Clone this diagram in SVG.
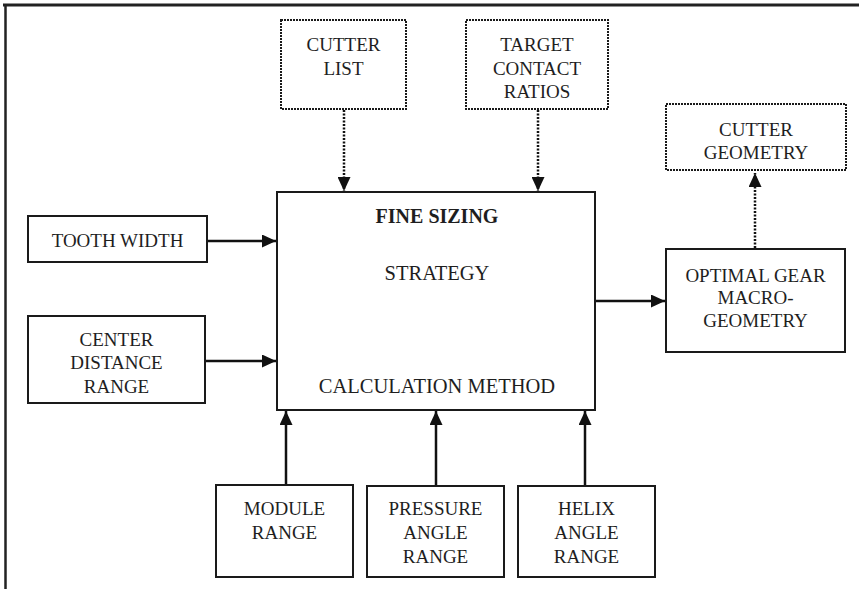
<svg xmlns="http://www.w3.org/2000/svg" width="859" height="589" viewBox="0 0 859 589">
<defs>
<style>
.box{fill:#fff;stroke:#1a1a1a;stroke-width:2}
.dot{fill:#fff;stroke:#1a1a1a;stroke-width:2;stroke-dasharray:2 1}
.t{font-family:"Liberation Serif","Times New Roman",serif;font-size:19px;fill:#1e1e1e;text-anchor:middle}
.m{font-size:20.5px}
.b{font-weight:bold;font-size:20px}
.c{fill:none;stroke:#111;stroke-width:2.5}
.cd{fill:none;stroke:#111;stroke-width:2.5;stroke-dasharray:2 1.5}
</style>
<marker id="ah" viewBox="0 0 14 13" refX="14" refY="6.5" markerWidth="14" markerHeight="13" markerUnits="userSpaceOnUse" orient="auto">
<path d="M0,0 L14,6.5 L0,13 Z" fill="#111"/>
</marker>
</defs>
<rect width="859" height="589" fill="#fff"/>
<g id="frame">
<line x1="3" y1="5" x2="859" y2="5" stroke="#222" stroke-width="3"/>
<line x1="5.5" y1="5" x2="5.5" y2="589" stroke="#222" stroke-width="2.5"/>
</g>
<g id="connectors">
<line class="cd" x1="344" y1="110" x2="344" y2="191" marker-end="url(#ah)"/>
<line class="cd" x1="538" y1="110" x2="538" y2="191" marker-end="url(#ah)"/>
<line class="c" x1="207" y1="241" x2="276" y2="241" marker-end="url(#ah)"/>
<line class="c" x1="205" y1="361" x2="276" y2="361" marker-end="url(#ah)"/>
<line class="c" x1="596" y1="301" x2="665" y2="301" marker-end="url(#ah)"/>
<line class="cd" x1="755" y1="248" x2="755" y2="173" marker-end="url(#ah)"/>
<line class="c" x1="286" y1="485" x2="286" y2="411" marker-end="url(#ah)"/>
<line class="c" x1="436" y1="486" x2="436" y2="411" marker-end="url(#ah)"/>
<line class="c" x1="585" y1="486" x2="585" y2="411" marker-end="url(#ah)"/>
</g>
<g id="cutter-list">
<rect class="dot" x="281" y="20" width="125" height="89"/>
<text class="t" x="343.5" y="51">CUTTER</text>
<text class="t" x="343.5" y="75">LIST</text>
</g>
<g id="target-contact-ratios">
<rect class="dot" x="466" y="20" width="142" height="89"/>
<text class="t" x="537" y="51">TARGET</text>
<text class="t" x="537" y="75">CONTACT</text>
<text class="t" x="537" y="98">RATIOS</text>
</g>
<g id="cutter-geometry">
<rect class="dot" x="666" y="104" width="180" height="66"/>
<text class="t" x="756" y="136">CUTTER</text>
<text class="t" x="756" y="159">GEOMETRY</text>
</g>
<g id="fine-sizing">
<rect class="box" x="277" y="192" width="318" height="218"/>
<text class="t b" x="437" y="223">FINE SIZING</text>
<text class="t m" x="437" y="280">STRATEGY</text>
<text class="t m" x="437" y="393">CALCULATION METHOD</text>
</g>
<g id="tooth-width">
<rect class="box" x="28" y="216" width="179" height="46"/>
<text class="t" x="117.5" y="247">TOOTH WIDTH</text>
</g>
<g id="center-distance-range">
<rect class="box" x="28" y="316" width="177" height="87"/>
<text class="t" x="116.5" y="346">CENTER</text>
<text class="t" x="116.5" y="369">DISTANCE</text>
<text class="t" x="116.5" y="393">RANGE</text>
</g>
<g id="optimal-gear">
<rect class="box" x="666" y="249" width="179" height="103"/>
<text class="t" x="755.5" y="282">OPTIMAL GEAR</text>
<text class="t" x="755.5" y="304">MACRO-</text>
<text class="t" x="755.5" y="327">GEOMETRY</text>
</g>
<g id="module-range">
<rect class="box" x="216" y="485" width="137" height="92"/>
<text class="t" x="284.5" y="515">MODULE</text>
<text class="t" x="284.5" y="539">RANGE</text>
</g>
<g id="pressure-angle-range">
<rect class="box" x="367" y="486" width="137" height="91"/>
<text class="t" x="435.5" y="515">PRESSURE</text>
<text class="t" x="435.5" y="539">ANGLE</text>
<text class="t" x="435.5" y="563">RANGE</text>
</g>
<g id="helix-angle-range">
<rect class="box" x="518" y="486" width="137" height="91"/>
<text class="t" x="586.5" y="515">HELIX</text>
<text class="t" x="586.5" y="539">ANGLE</text>
<text class="t" x="586.5" y="563">RANGE</text>
</g>
</svg>
